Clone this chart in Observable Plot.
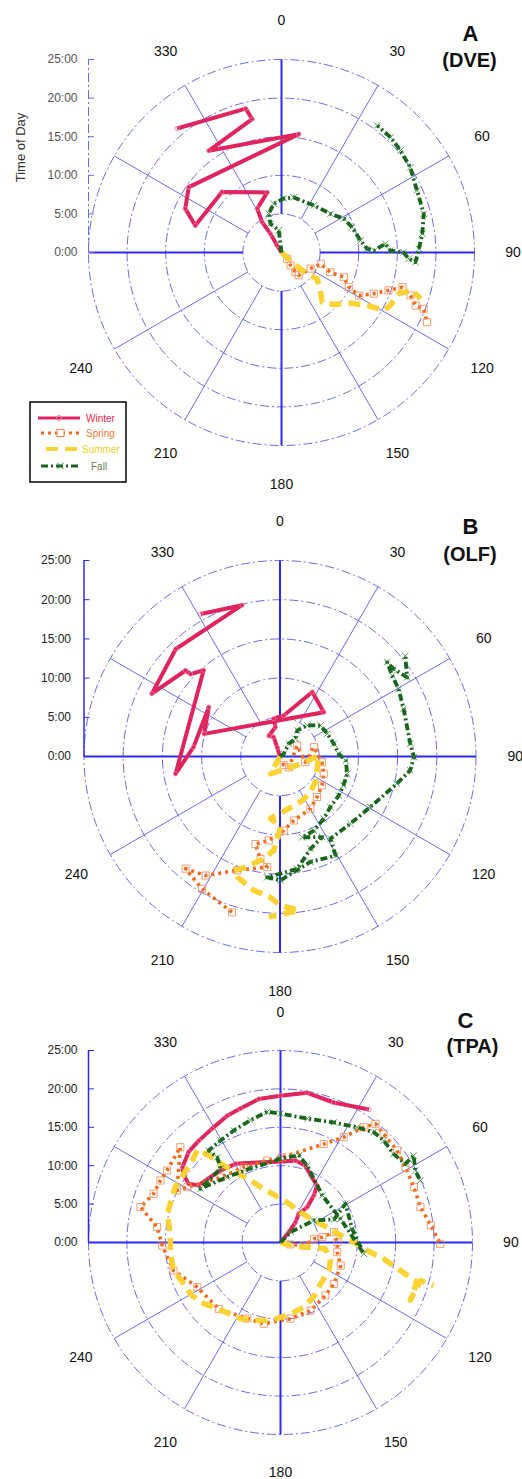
<!DOCTYPE html>
<html>
<head>
<meta charset="utf-8">
<script src="https://cdn.jsdelivr.net/npm/d3@7"></script>
<script src="https://cdn.jsdelivr.net/npm/@observablehq/plot@0.6"></script>
<style>
  html, body { margin: 0; padding: 0; background: #fff; }
  #wrap { position: relative; width: 522px; height: 1479px; overflow: hidden; font-family: 'Liberation Sans', Arial, sans-serif; }
</style>
</head>
<body>
<div id="wrap"></div>
<script>
// ---------- tick labels / categories ----------
const angleTicks = [0, 30, 60, 90, 120, 150, 180, 210, 240, 330];
const spokeAngles = [30, 60, 120, 150, 210, 240, 300, 330];
const axisAngles = [0, 90, 180, 270];
const hourTicks = [0, 5, 10, 15, 20, 25];
const ringHours = [5, 10, 15, 20, 25];
const seasons = ["Winter", "Spring", "Summer", "Fall"];

// ---------- series: [angle (deg, clockwise from 0), time of day (h)] ----------
// Panel A (DVE)
const dveWinter = [[0,0],[328,1.1],[329.5,2.8],[327.5,4.7],[331,6.5],[346.7,8.0],[315.5,11.0],[287.4,11.7],[294.5,13.7],[305.2,14.7],[8.3,15.5],[324.5,16.2],[347.6,17.7],[346,19.2],[319.9,21.0]];
const dveSpring = [[0,0],[138,1.1],[145,2.05],[144.6,3.1],[143,3.7],[119,4.3],[106,5.3],[112,6.8],[111.6,8.7],[117.3,9.8],[119,11.5],[114,13.1],[109.5,14.7],[106,16.3],[108.4,17.6],[111.6,18.7],[111.6,19.8],[115.6,20.9]];
const dveSummer = [[0,0],[132,1.9],[131,3.6],[128.4,4.8],[126.4,5.7],[134.3,7.05],[140.7,8.3],[134.8,9.55],[126.2,11.1],[121.7,13.05],[119.5,15.2],[115.9,15.7],[109.3,16.1],[106.2,17.6],[108.4,19.0]];
const dveFall = [[0,0],[353,2.9],[339,4.0],[341.8,5.3],[351,6.4],[2.5,7.0],[12.5,7.3],[34.5,7.4],[51.7,8.1],[61.6,9.2],[70.3,9.7],[81.4,10.35],[87.5,11.1],[88.8,12.0],[85.2,13.5],[89,14.1],[89.9,15.8],[92.8,16.5],[94.1,17.4],[88.5,17.8],[82.4,18.4],[74.8,19.1],[65.4,19.3],[56.5,20.0],[49.4,20.3],[43.4,20.55],[37,20.6]];
// Panel B (OLF)
const olfWinter = [[0,0],[343,1.2],[342,2.6],[332,3.0],[351,3.8],[350.7,4.9],[5.3,5.25],[26.6,9.2],[44.7,7.95],[286.6,10.1],[304.7,11.05],[276.2,11.1],[260.6,13.5],[318.5,14.7],[312.7,15.5],[312.3,16.3],[296.1,18.2],[315.9,19.1],[345.9,19.9],[330.9,20.8]];
const olfSpring = [[0,0],[157,1.2],[140.6,1.8],[57.4,2.6],[102.6,3.3],[74.6,4.5],[97.7,5.4],[111.6,6.0],[124.5,6.5],[137.6,7.0],[149.7,7.7],[167.8,8.35],[177.1,9.45],[187.6,10.8],[195.7,11.6],[190.8,13.3],[186.6,14.2],[200.6,15.5],[212,17.9],[220.1,18.7],[210.5,19.6],[197.1,20.8]];
const olfSummer = [[0,0],[208.8,2.5],[149.7,1.8],[109.6,2.8],[88.5,4.95],[124,5.5],[139.5,6.0],[153.2,6.3],[174.2,6.9],[188.7,8.0],[179.6,9.0],[181.9,10.7],[183.8,12.0],[189,13.2],[197.3,14.8],[202.1,15.7],[199.5,16.3],[191.1,17.4],[183.9,18.0],[179.8,19.0],[173,19.8],[184,20.5]];
const olfFall = [[0,0],[54.6,0.6],[34.7,2.0],[41.2,3.0],[33.5,4.0],[41.3,5.3],[52.6,6.5],[64.3,6.7],[76.7,7.05],[87.4,7.5],[93.5,8.4],[104.4,8.85],[114.4,8.9],[123.6,9.0],[135.1,9.1],[144.9,9.7],[155.5,10.4],[164.6,10.7],[152.4,11.6],[161.7,12.4],[171.3,14.5],[186.1,15.5],[179.8,15.8],[163.9,14.0],[150.7,14.5],[148.5,12.3],[133.7,12.4],[119.3,13.2],[103.1,15.3],[96.1,16.7],[90.3,17.1],[84.4,16.7],[68.9,16.9],[60.3,17.4],[54.2,17.65],[48.7,18.2],[52.4,18.3],[58.1,19.1],[51.2,20.5]];
// Panel C (TPA)
const tpaWinter = [[0,0],[38.9,1.7],[36.5,3.3],[32.5,4.4],[37.1,5.8],[35.3,7.5],[32.8,8.8],[24.1,9.6],[18,10.5],[10.4,10.85],[0,10.5],[348.3,10.7],[330.2,11.8],[320.2,12.2],[311,12.6],[304.9,13.0],[302.6,14.2],[304.7,15.3],[307.5,16.1],[314.6,16.8],[321.3,17.0],[329,17.3],[337.2,17.9],[343.3,18.2],[351.4,18.9],[0,19.1],[10.1,19.8],[20.8,19.5],[33.6,20.8]];
const tpaSpring = [[0,0],[101,1.3],[97.3,3.1],[83.7,4.4],[82.8,5.5],[79.1,7.1],[89.7,7.4],[99.7,7.5],[111,8.4],[127.8,8.8],[139.7,9.05],[156.2,9.7],[172.5,10.0],[191.6,10.8],[203.6,10.8],[222.9,11.8],[241.8,12.3],[255.3,14.4],[268.5,15.4],[277.1,16.2],[284.2,18.8],[291,17.7],[297.3,17.6],[302.4,17.5],[313.6,18.0],[296.7,15.1],[300.7,14.1],[317.4,11.5],[334,10.9],[350.8,10.8],[1.1,11.1],[23.7,14.0],[31,16.0],[35.8,18.5],[38.7,19.8],[43.5,19.5],[51.7,19.35],[58.9,19.0],[67.5,18.8],[75.8,18.8],[83.5,19.7],[90.5,20.8]];
const tpaSummer = [[0,0],[105,2.0],[98.9,3.95],[98,5.9],[109.8,6.9],[120.1,7.3],[135.9,7.5],[148.7,8.3],[160.2,8.95],[172,9.4],[182.5,9.9],[192.1,10.4],[207.7,11.2],[223.7,11.9],[233.3,13.0],[240.3,13.5],[246.9,13.7],[255.3,14.4],[264.1,14.4],[274.5,14.4],[284.2,15.2],[297.8,15.5],[303.6,15.4],[312.9,15.7],[318.3,16.2],[320.5,14.7],[323.6,12.45],[332.4,9.4],[342.7,7.3],[9.4,5.3],[33.4,4.7],[56.5,5.2],[71.9,6.4],[83.3,7.9],[89.8,9.55],[96.2,11.8],[99,13.6],[103.1,16.0],[106.2,18.5],[114,18.5],[105.2,18.9],[105.7,20.7]];
const tpaFall = [[0,0],[44.2,1.9],[56.5,5.2],[66.7,7.6],[59.2,9.85],[79.2,9.5],[97.7,10.95],[68.4,8.4],[41.6,8.2],[19.1,10.6],[11.9,11.6],[0,10.9],[337.8,10.4],[320.8,11.0],[303.9,12.55],[309.4,12.4],[320.9,12.4],[323.4,13.8],[322.1,15.2],[329.5,15.4],[337.4,15.8],[346.2,16.4],[354.2,17.1],[0,16.8],[12.2,16.5],[23.9,17.1],[33.6,18.0],[40.2,18.8],[45.4,18.9],[51.9,18.7],[57.8,19.2],[56.9,20.7],[61.9,19.9],[66.1,19.9]];

// ---------- styles ----------
const GRID = "#6a6af0";
const AXIS = "#2b2bf5";
const seasonStyle = {
  Winter: {stroke: "#e0245e", width: 4, dash: null, symbol: "circle", mstroke: "#f07a9c", mr: 2.2, text: "#f5264a"},
  Spring: {stroke: "#f26b1d", width: 3.6, dash: "3,4", symbol: "square", mstroke: "#f5874a", mr: 4, text: "#f07b35"},
  Summer: {stroke: "#fdd233", width: 5.5, dash: "12,7", symbol: null, text: "#e6cf26"},
  Fall:   {stroke: "#17651a", width: 3.8, dash: "7,3,2,3", symbol: "times", mstroke: "#2e7d32", mr: 3, text: "#6c7b5c"}
};

const panels = [
  {top: 0, ml: 88, mr: 48, mt: 59, mb: 50, letter: "A", code: "(DVE)",
   letterPos: [-4, -26], codePos: [-5, 1], series: {Winter: dveWinter, Spring: dveSpring, Summer: dveSummer, Fall: dveFall},
   axisFrom: {0: 5, 90: 5, 180: 5, 270: 5}, radialDash: "9,3,2,3", radialColor: GRID, tickColor: "#555", tickPad: 11,
   yLabel: true, legend: true},
  {top: 495, ml: 83.5, mr: 46.5, mt: 65, mb: 38, letter: "B", code: "(OLF)",
   letterPos: [-5.5, -34], codePos: [-6, -6], series: {Winter: olfWinter, Spring: olfSpring, Summer: olfSummer, Fall: olfFall},
   axisFrom: {0: 5, 90: 0, 180: 5, 270: 0}, radialDash: null, radialColor: AXIS, tickColor: "#222", tickPad: 13,
   yLabel: false, legend: false},
  {top: 990, ml: 88, mr: 50, mt: 60, mb: 45, letter: "C", code: "(TPA)",
   letterPos: [-7, -30], codePos: [0, -4], series: {Winter: tpaWinter, Spring: tpaSpring, Summer: tpaSummer, Fall: tpaFall},
   axisFrom: {0: 0, 90: 0, 180: 5, 270: 0}, radialDash: null, radialColor: AXIS, tickColor: "#222", tickPad: 11,
   yLabel: false, legend: false}
];

const W = 522;
const rad = a => a * Math.PI / 180;
const px = (a, h) => h * Math.sin(rad(a));
const py = (a, h) => h * Math.cos(rad(a));
const wrap = document.getElementById("wrap");

for (const p of panels) {
  const R = (W - p.ml - p.mr) / 2;
  const height = p.mt + 2 * R + p.mb;
  const tickLen = 6 * 25 / R;
  const seriesMarks = [];
  for (const s of seasons) {
    const st = seasonStyle[s];
    const rows = p.series[s].map(([angle, hour]) => ({angle, hour}));
    const X = d => px(d.angle, d.hour), Y = d => py(d.angle, d.hour);
    seriesMarks.push(Plot.line(rows, {x: X, y: Y, stroke: st.stroke, strokeWidth: st.width,
      strokeDasharray: st.dash, strokeLinejoin: "round", strokeLinecap: "butt"}));
    if (st.symbol) {
      seriesMarks.push(Plot.dot(rows.slice(1), {x: X, y: Y, symbol: st.symbol, r: st.mr,
        fill: "none", stroke: st.mstroke, strokeWidth: 1, strokeOpacity: 0.8}));
    }
  }
  const marks = [
    Plot.dot(ringHours, {x: () => 0, y: () => 0, r: d => d, fill: "none", stroke: GRID, strokeWidth: 1, strokeDasharray: "9,3,2,3"}),
    Plot.link(spokeAngles, {x1: a => px(a, 5), y1: a => py(a, 5), x2: a => px(a, 25), y2: a => py(a, 25), stroke: GRID, strokeWidth: 1}),
    Plot.link(axisAngles, {x1: a => px(a, p.axisFrom[a]), y1: a => py(a, p.axisFrom[a]), x2: a => px(a, 25), y2: a => py(a, 25), stroke: AXIS, strokeWidth: 2}),
    Plot.ruleX([-25], {x: d => d, y1: () => 0, y2: () => 25, stroke: p.radialColor, strokeWidth: p.radialDash ? 1 : 1.5, strokeDasharray: p.radialDash}),
    Plot.ruleY(hourTicks, {y: d => d, x1: () => -25, x2: () => -25 + tickLen, stroke: p.radialColor, strokeWidth: 1}),
    Plot.axisY(hourTicks, {tickFormat: d => `${d}:00`, tickSize: 0, tickPadding: p.tickPad, label: null, fontSize: 12, color: p.tickColor}),
    Plot.text(angleTicks, {x: a => px(a, 30), y: a => py(a, 30), text: a => `${a}`, fontSize: 14, fill: "#111"}),
    ...seriesMarks,
    Plot.text([p.letter], {frameAnchor: "top-right", textAnchor: "middle", lineAnchor: "middle", dx: p.letterPos[0], dy: p.letterPos[1], fontSize: 22, fontWeight: "bold", fill: "#111"}),
    Plot.text([p.code], {frameAnchor: "top-right", textAnchor: "middle", lineAnchor: "middle", dx: p.codePos[0], dy: p.codePos[1], fontSize: 20, fontWeight: "bold", fill: "#111"})
  ];
  if (p.yLabel) {
    marks.push(Plot.text(["Time of Day"], {frameAnchor: "top-left", textAnchor: "middle", lineAnchor: "middle", dx: -68, dy: 88, rotate: -90, fontSize: 13, fill: "#333"}));
  }
  const svg = Plot.plot({
    width: W, height,
    marginLeft: p.ml, marginRight: p.mr, marginTop: p.mt, marginBottom: p.mb,
    x: {domain: [-25, 25], axis: null},
    y: {domain: [-25, 25]},
    r: {type: "linear", domain: [0, 25], range: [0, R]},
    style: {fontFamily: "'Liberation Sans', Arial, sans-serif", background: "transparent", overflow: "visible"},
    marks
  });
  svg.style.position = "absolute";
  svg.style.left = "0px";
  svg.style.top = p.top + "px";
  wrap.appendChild(svg);

  if (p.legend) {
    const lg = d3.create("svg").attr("width", 98).attr("height", 82)
      .style("position", "absolute").style("left", "29px").style("top", "401px").style("overflow", "visible");
    lg.append("rect").attr("x", 1).attr("y", 1).attr("width", 96).attr("height", 80)
      .attr("fill", "#fff").attr("stroke", "#111").attr("stroke-width", 1.6);
    const rowsY = [17, 32, 48, 65];
    const lineX = {Winter: [9, 51], Spring: [12, 51], Summer: [17, 49], Fall: [12, 51]};
    const textX = {Winter: 57, Spring: 57, Summer: 53, Fall: 62};
    seasons.forEach((s, i) => {
      const st = seasonStyle[s];
      const y = rowsY[i];
      lg.append("line").attr("x1", lineX[s][0]).attr("x2", lineX[s][1]).attr("y1", y).attr("y2", y)
        .attr("stroke", st.stroke).attr("stroke-width", s === "Summer" ? 4 : 3)
        .attr("stroke-dasharray", st.dash);
      const mx = (lineX[s][0] + lineX[s][1]) / 2;
      if (s === "Winter") lg.append("circle").attr("cx", mx).attr("cy", y).attr("r", 2.5).attr("fill", "none").attr("stroke", st.mstroke);
      if (s === "Spring") lg.append("rect").attr("x", mx - 3.5).attr("y", y - 3.5).attr("width", 7).attr("height", 7).attr("fill", "#fff").attr("stroke", st.mstroke);
      if (s === "Fall") lg.append("path").attr("d", `M${mx - 3},${y - 3}L${mx + 3},${y + 3}M${mx - 3},${y + 3}L${mx + 3},${y - 3}`).attr("stroke", st.mstroke);
      lg.append("text").attr("x", textX[s]).attr("y", y + 3.5).attr("fill", st.text)
        .attr("font-size", 10).attr("font-family", "'Liberation Sans', Arial, sans-serif").text(s);
    });
    wrap.appendChild(lg.node());
  }
}
</script>
</body>
</html>
